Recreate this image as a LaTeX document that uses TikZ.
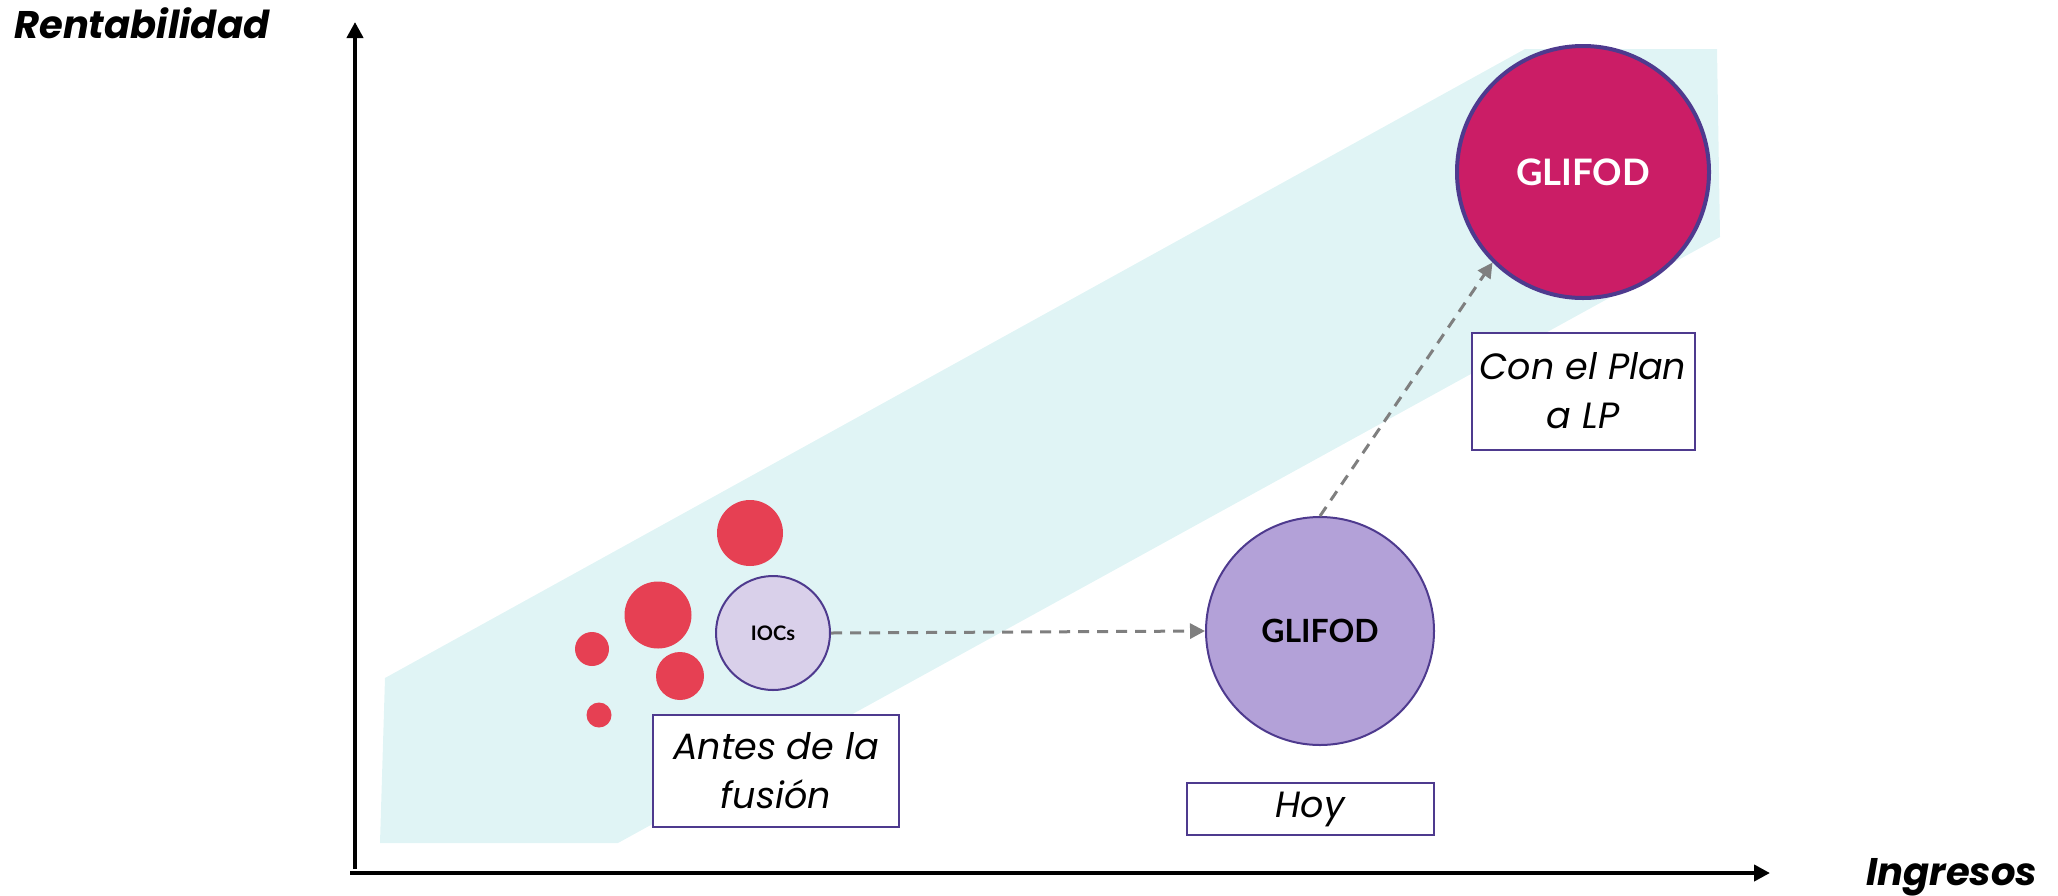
\documentclass[tikz,border=0pt]{standalone}
\usepackage{fontspec}
\usepackage{tikz}
\usetikzlibrary{positioning,arrows.meta}

\newfontfamily\labelfont{Poppins}
\newfontfamily\namefont{Lato}

\definecolor{bandcol}{HTML}{E0F4F5}
\definecolor{reddot}{HTML}{E64053}
\definecolor{iocfill}{HTML}{D9D0EA}
\definecolor{nowfill}{HTML}{B3A1D8}
\definecolor{futurefill}{HTML}{CB1D66}
\definecolor{edgecol}{HTML}{4E3A8E}
\definecolor{flowgray}{HTML}{7F7F7F}

\begin{document}
\begin{tikzpicture}[x=1pt,y=-1pt,
				axis/.style={line width=4pt,-{Triangle[length=16pt,width=16pt]}},
				flow/.style={flowgray,line width=3pt,dash pattern=on 11pt off 8pt,
						-{Triangle[length=15pt,width=15pt]}},
				dot/.style={circle,fill=reddot,inner sep=0pt},
				bubble/.style={circle,draw=edgecol,line width=2pt,inner sep=0pt,
						font=\namefont\bfseries},
				tag/.style={draw=edgecol,line width=2pt,fill=white,align=center,
						inner sep=0pt,font=\labelfont\itshape\fontsize{36.5}{49}\selectfont},
				axislabel/.style={anchor=base west,inner sep=0pt,
						font=\labelfont\bfseries\itshape\fontsize{38.5}{42}\selectfont}]

			\useasboundingbox (0,0) rectangle (2058,895);

			% band
			\fill[bandcol] (380,843) -- (385,678) -- (1525,49) -- (1717,49)
				-- (1720,237) -- (618,843) -- cycle;

			% axes
			\coordinate (yfoot) at (355,869);
			\coordinate (ytop) at (355,22);
			\coordinate (xfoot) at (350,873);
			\coordinate (xtip) at (1770,873);
			\draw[axis] (yfoot)--(ytop);
			\draw[axis] (xfoot)--(xtip);
			\node[axislabel] (ylab) at (14,38) {Rentabilidad};
			\node[axislabel] (xlab) at (1866,885) {Ingresos};

			% small companies
			\node[dot,minimum size=66pt] (dotA) at (750,533) {};
			\node[dot,minimum size=67pt] (dotB) at (658,615) {};
			\node[dot,minimum size=34pt] (dotC) at (592,649) {};
			\node[dot,minimum size=48pt] (dotD) at (680,676) {};
			\node[dot,minimum size=25pt] (dotE) at (599,715) {};

			\node[bubble,fill=iocfill,minimum size=114pt,
				font=\namefont\bfseries\fontsize{20}{22}\selectfont] (ioc) at (773,633) {IOCs};
			\node[bubble,fill=nowfill,minimum size=228pt,
				font=\namefont\bfseries\fontsize{32}{36}\selectfont] (now) at (1320,631) {GLIFOD};
			\node[bubble,fill=futurefill,line width=4pt,minimum size=252pt,text=white,
				font=\namefont\bfseries\fontsize{36.5}{40}\selectfont] (future) at (1583,172) {GLIFOD};

			\node[tag,minimum width=246pt,minimum height=112pt] (before) at (776,771) {Antes de la\\fusión};
			\node[tag,minimum width=247pt,minimum height=52pt] (today) at (1310,809) {Hoy};
			\node[tag,minimum width=223pt,minimum height=117pt] (plan) at (1583,391) {Con el Plan\\a LP};

			\draw[flow] (ioc.east)--(now.west);
			\draw[flow] (now.north)--(future.south west);

		\end{tikzpicture}
\end{document}
